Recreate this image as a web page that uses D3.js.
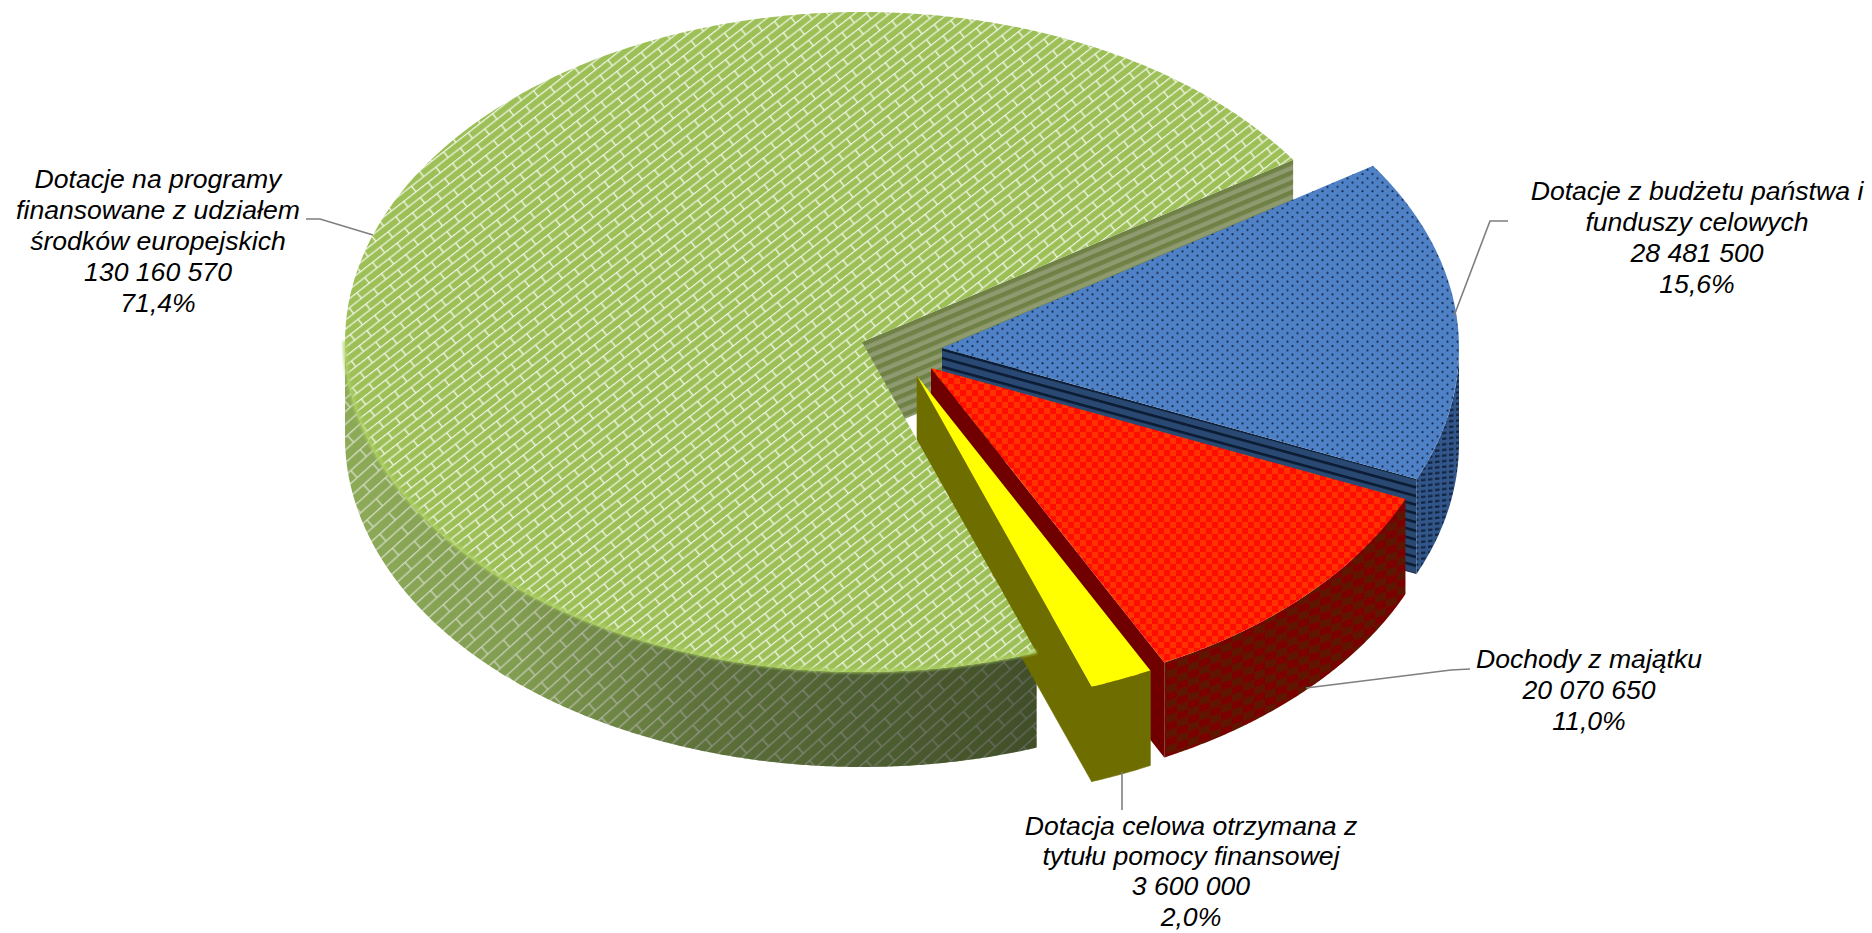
<!DOCTYPE html>
<html><head><meta charset="utf-8">
<script src="https://cdn.jsdelivr.net/npm/d3@7"></script>
<style>html,body{margin:0;background:#fff;overflow:hidden}svg{display:block}text{font-family:"Liberation Sans",Arial,sans-serif;font-style:italic;font-size:26.6px;fill:#000;text-anchor:middle}</style>
</head><body>
<svg id="c" width="1872" height="933"></svg>
<script>
// ---- data ----
const categories = ["Dotacje z budżetu państwa i funduszy celowych","Dochody z majątku","Dotacja celowa otrzymana z tytułu pomocy finansowej","Dotacje na programy finansowane z udziałem środków europejskich"];
const values = [28481500,20070650,3600000,130160570];
const valueLabels = ["28 481 500","20 070 650","3 600 000","130 160 570"];
const percentLabels = ["15,6%","11,0%","2,0%","71,4%"];
const categoryLines = [["Dotacje z budżetu państwa i","funduszy celowych"],["Dochody z majątku"],["Dotacja celowa otrzymana z","tytułu pomocy finansowej"],["Dotacje na programy","finansowane z udziałem","środków europejskich"]];

// ---- layout ----
const RX=517, RY=330, DEPTH=95, rot=56.5*Math.PI/180, persp=0.8*Math.PI/180;
const centers=[[942,348],[931,368],[917,376],[862,342]];
const labelPos=[[1697,200],[1589,668],[1191,835],[158,188]];
const lineGaps=[31,31,30.2,31];
const leaders=[[[1508,221],[1490,221],[1454,316]],[[1470,669],[1451,670],[1306,688]],[[1122,810],[1122,772]],[[306,219],[320,219],[373,235]]];
const svg=d3.select("#c");
const defs=svg.append("defs");

function pat(id,w,h,tf,draw){const p=defs.append("pattern").attr("id",id).attr("patternUnits","userSpaceOnUse").attr("width",w).attr("height",h);
 if(tf)p.attr("patternTransform",tf);draw(p);}
const R=(p,x,y,w,h,f)=>p.append("rect").attr("x",x).attr("y",y).attr("width",w).attr("height",h).attr("fill",f);
const L=(p,d,c,sw)=>p.append("path").attr("d",d).attr("stroke",c).attr("stroke-width",sw).attr("fill","none");
const C=(p,x,y,r,f)=>p.append("circle").attr("cx",x).attr("cy",y).attr("r",r).attr("fill",f);

// green top bricks
pat("gTop",31,14.4,"translate(3 2) rotate(-38)",p=>{R(p,0,0,31,14.4,"#9cbf57");
 L(p,"M0 .6H31M0 7.8H31M7 0V7.2M22.5 7.2V14.4","#f4f7ea",1.35);});
// green side bricks
pat("gSide",42,19,"translate(2 4) rotate(-42)",p=>{R(p,0,0,42,19,"#8fae59");
 L(p,"M0 .6H42M0 10.1H42M10 0V9.5M31 9.5V19","#dfe6cf",1.3);});
// green wall stripes
const wallAng=Math.atan2(-182,431)*180/Math.PI;
pat("gWall",9,9,`translate(862 342) rotate(${wallAng})`,p=>{R(p,0,0,9,9,"#6f8144");R(p,0,4.5,9,4.5,"#8e9a70");});
// blue top dots
pat("bTop",10,8.6,null,p=>{R(p,0,0,10,8.6,"#4f81c6");C(p,2.5,2.1,1.1,"#16294a");C(p,7.5,6.4,1.1,"#16294a");});
// blue wall stripes
const bAng=Math.atan2(129,473)*180/Math.PI;
pat("bWall",8.4,8.4,`translate(942 348) rotate(${bAng})`,p=>{R(p,0,0,8.4,8.4,"#294a72");R(p,0,0,8.4,2.6,"#0b1a33");});
pat("bSide",7,5.6,"skewY(-6)",p=>{R(p,0,0,7,5.6,"#30568a");R(p,0,1.4,4.5,2.2,"#12233f");});
// red top checker
pat("rTop",12,12,null,p=>{R(p,0,0,12,12,"#ff0a00");R(p,0,0,6,6,"#ff3300");R(p,6,6,6,6,"#ff3300");});
// red side checker
pat("rSide",22,15,"skewY(-18)",p=>{R(p,0,0,22,15,"#7a0400");R(p,0,0,11,7.5,"#5f1300");R(p,11,7.5,11,7.5,"#5f1300");});
// shading
const g1=defs.append("linearGradient").attr("id","gShade");
[[0,.02],[.25,.1],[.5,.34],[.75,.46],[1,.55]].forEach(s=>g1.append("stop").attr("offset",s[0]).attr("stop-color","#000").attr("stop-opacity",s[1]));
defs.append("filter").attr("id","soft").attr("x","-5%").attr("y","-5%").attr("width","110%").attr("height","110%").append("feGaussianBlur").attr("stdDeviation",.45);
defs.append("filter").attr("id","rimBlur").attr("x","-5%").attr("y","-5%").attr("width","110%").attr("height","110%").append("feGaussianBlur").attr("stdDeviation",1);

// ---- geometry through d3 ----
const pie=d3.pie().sort(null).value(d=>d).startAngle(rot).endAngle(rot+2*Math.PI);
const arcs=pie(values);
const xS=d3.scaleLinear().domain([-1,1]).range([-RX,RX]);
const yS=d3.scaleLinear().domain([-1,1]).range([-RY,RY]);
const warp=a=>a+persp*Math.max(0,Math.sin(a-rot));
const pt=(c,a,dz=0)=>{const b=warp(a);return [c[0]+xS(Math.sin(b)),c[1]-yS(Math.cos(b))+dz];};
const line=d3.line();
const sample=(a0,a1)=>{const n=Math.max(2,Math.ceil(Math.abs(a1-a0)*180));return d3.range(n+1).map(i=>a0+(a1-a0)*i/n);};
const topPath=(c,a0,a1)=>line([c,...sample(a0,a1).map(a=>pt(c,a))])+"Z";
const sidePath=(c,a0,a1)=>{const s=sample(a0,a1);return line([...s.map(a=>pt(c,a)),...s.slice().reverse().map(a=>pt(c,a,DEPTH))])+"Z";};
const wallPath=(c,a)=>{const e=pt(c,a);return line([c,e,[e[0],e[1]+DEPTH],[c[0],c[1]+DEPTH]])+"Z";};

const root=svg.append("g").attr("filter","url(#soft)");
const P=(d,f)=>root.append("path").attr("d",d).attr("fill",f);
const [blue,red,yel,grn]=arcs; const [cB,cR,cY,cG]=centers;
const gA0=grn.startAngle, gA1=grn.endAngle;
// green: wall & outer side
P(wallPath(cG,gA1),"url(#gWall)");
P(sidePath(cG,gA0,3*Math.PI/2),"url(#gSide)");
P(sidePath(cG,gA0,3*Math.PI/2),"url(#gShade)");
// blue
P(wallPath(cB,blue.endAngle),"url(#bWall)");
P(sidePath(cB,Math.PI/2,blue.endAngle),"url(#bSide)");
P(topPath(cB,blue.startAngle,blue.endAngle),"url(#bTop)");
// red
P(wallPath(cR,red.endAngle),"#6f0500");
P(sidePath(cR,red.startAngle,red.endAngle),"url(#rSide)");
P(topPath(cR,red.startAngle,red.endAngle),"url(#rTop)");
// yellow
P(wallPath(cY,yel.endAngle)+sidePath(cY,yel.startAngle,yel.endAngle),"#6e6e00").attr("stroke","#6e6e00").attr("stroke-width",.6);
P(topPath(cY,yel.startAngle,yel.endAngle),"#ffff00");
// green top and rim
P(topPath(cG,gA0,gA1),"url(#gTop)");
svg.append("path").attr("d",line(sample(gA0,3*Math.PI/2).map(a=>pt(cG,a,-1)))).attr("fill","none").attr("stroke","#a9cf5e").attr("stroke-opacity",.7).attr("stroke-width",4.5).attr("filter","url(#rimBlur)");

// ---- leaders & labels ----
leaders.forEach(l=>svg.append("path").attr("d",line(l)).attr("fill","none").attr("stroke","#7f7f7f").attr("stroke-width",1.6));
categories.forEach((c,i)=>{
 const t=svg.append("text").attr("x",labelPos[i][0]).attr("y",labelPos[i][1]);
 [...categoryLines[i],valueLabels[i],percentLabels[i]].forEach((s,k)=>t.append("tspan").attr("x",labelPos[i][0]).attr("y",labelPos[i][1]+k*lineGaps[i]).text(s));
});
</script>
</body></html>
